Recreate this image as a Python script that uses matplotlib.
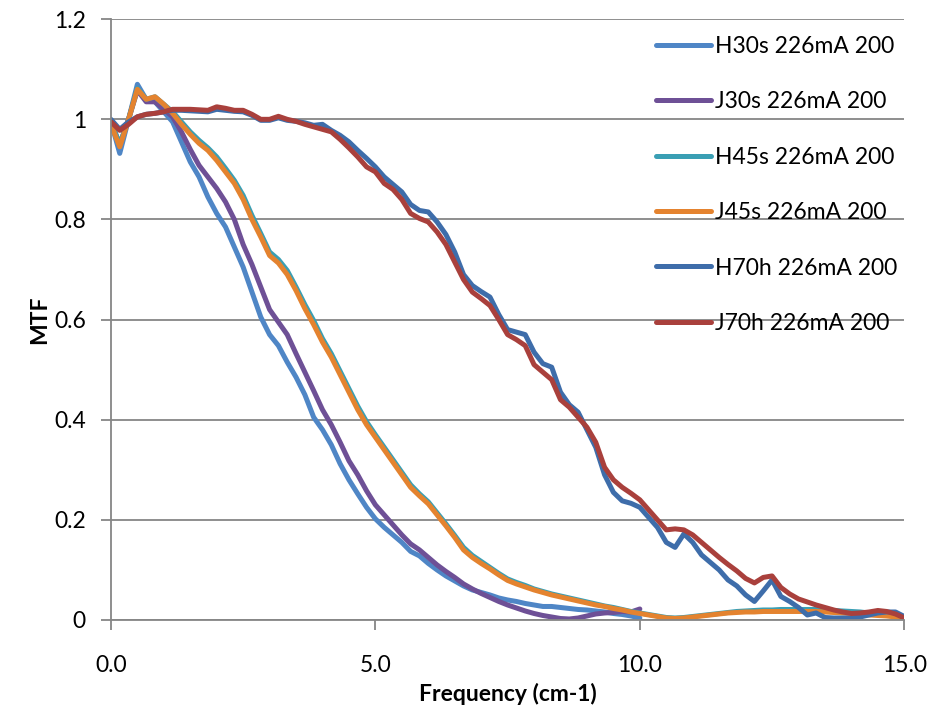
import numpy as np
import matplotlib
matplotlib.use('Agg')
import matplotlib.pyplot as plt

## MTF curves, sampled every 1/6 cm-1
## 30s series stop at 10 cm-1, the others go out to 15 cm-1
freq_short = np.arange(61) / 6.0
freq_long = np.arange(91) / 6.0

H30s = [0.995, 0.932, 1.0, 1.07, 1.04, 1.035, 1.015, 0.995, 0.955, 0.915,
        0.885, 0.845, 0.812, 0.785, 0.745, 0.705, 0.655, 0.605, 0.57, 0.548,
        0.515, 0.485, 0.45, 0.405, 0.38, 0.35, 0.312, 0.28, 0.252, 0.225,
        0.202, 0.185, 0.17, 0.155, 0.137, 0.128, 0.113, 0.1, 0.088, 0.078,
        0.068, 0.06, 0.055, 0.05, 0.044, 0.04, 0.037, 0.033, 0.03, 0.027,
        0.027, 0.025, 0.023, 0.021, 0.02, 0.018, 0.016, 0.013, 0.011, 0.008,
        0.004]

J30s = [0.995, 0.95, 1.0, 1.058, 1.035, 1.035, 1.02, 1.005, 0.975, 0.94,
        0.908, 0.885, 0.862, 0.835, 0.8, 0.75, 0.71, 0.665, 0.62, 0.595,
        0.57, 0.532, 0.495, 0.458, 0.42, 0.39, 0.355, 0.318, 0.29, 0.258,
        0.23, 0.21, 0.19, 0.17, 0.152, 0.14, 0.125, 0.11, 0.097, 0.085,
        0.072, 0.062, 0.053, 0.045, 0.037, 0.03, 0.024, 0.018, 0.013, 0.009,
        0.006, 0.003, 0.002, 0.004, 0.008, 0.012, 0.014, 0.015, 0.017, 0.016,
        0.022]

H45s = [0.995, 0.95, 1.0, 1.062, 1.04, 1.045, 1.03, 1.015, 0.995, 0.975,
        0.958, 0.943, 0.925, 0.902, 0.878, 0.848, 0.808, 0.772, 0.735, 0.72,
        0.698, 0.665, 0.63, 0.598, 0.562, 0.532, 0.497, 0.462, 0.427, 0.396,
        0.37, 0.345, 0.32, 0.295, 0.27, 0.252, 0.236, 0.214, 0.192, 0.169,
        0.145, 0.129, 0.117, 0.105, 0.093, 0.082, 0.075, 0.069, 0.062, 0.057,
        0.052, 0.048, 0.044, 0.04, 0.036, 0.032, 0.028, 0.025, 0.021, 0.017,
        0.014, 0.011, 0.008, 0.005, 0.004, 0.005, 0.007, 0.009, 0.011, 0.013,
        0.015, 0.017, 0.018, 0.019, 0.02, 0.02, 0.021, 0.021, 0.021, 0.021,
        0.021, 0.02, 0.019, 0.018, 0.017, 0.016, 0.014, 0.012, 0.01, 0.008,
        0.005]

J45s = [0.99, 0.945, 1.0, 1.06, 1.04, 1.045, 1.03, 1.012, 0.99, 0.97,
        0.952, 0.938, 0.918, 0.895, 0.872, 0.84, 0.8, 0.765, 0.728, 0.713,
        0.69, 0.658, 0.622, 0.59, 0.555, 0.525, 0.49, 0.455, 0.42, 0.39,
        0.365, 0.34, 0.315, 0.29, 0.265, 0.248, 0.232, 0.21, 0.188, 0.165,
        0.14, 0.125, 0.113, 0.102, 0.09, 0.079, 0.072, 0.066, 0.06, 0.055,
        0.05, 0.046, 0.042, 0.038, 0.034, 0.03, 0.027, 0.023, 0.02, 0.016,
        0.013, 0.01, 0.007, 0.004, 0.003, 0.004, 0.006, 0.008, 0.01, 0.012,
        0.014, 0.015, 0.016, 0.016, 0.017, 0.017, 0.017, 0.017, 0.017, 0.017,
        0.017, 0.016, 0.015, 0.014, 0.013, 0.012, 0.01, 0.009, 0.008, 0.006,
        0.004]

H70h = [1.0, 0.98, 0.995, 1.005, 1.01, 1.012, 1.015, 1.018, 1.018, 1.017,
        1.016, 1.015, 1.02, 1.018, 1.016, 1.015, 1.008, 0.998, 0.998, 1.003,
        0.998, 0.996, 0.993, 0.988, 0.99, 0.978, 0.968, 0.955, 0.938, 0.922,
        0.905, 0.885, 0.87, 0.855, 0.83, 0.818, 0.815, 0.795, 0.77, 0.735,
        0.69, 0.668, 0.656, 0.645, 0.61, 0.58, 0.575, 0.57, 0.535, 0.512,
        0.505, 0.455, 0.43, 0.415, 0.38, 0.345, 0.29, 0.255, 0.238, 0.233,
        0.225, 0.205, 0.185, 0.155, 0.145, 0.172, 0.155, 0.13, 0.115, 0.1,
        0.08, 0.068, 0.05, 0.037, 0.058, 0.08, 0.047, 0.037, 0.025, 0.01,
        0.014, 0.005, 0.004, 0.004, 0.004, 0.006, 0.01, 0.014, 0.016, 0.016,
        0.007]

J70h = [0.995, 0.978, 0.99, 1.005, 1.01, 1.012, 1.015, 1.02, 1.02, 1.02,
        1.019, 1.018, 1.025, 1.022, 1.018, 1.018, 1.01, 1.0, 1.0, 1.006,
        1.0, 0.996, 0.99, 0.985, 0.98, 0.975, 0.96, 0.943, 0.925, 0.905,
        0.895, 0.872, 0.86, 0.84, 0.812, 0.802, 0.795, 0.775, 0.75, 0.715,
        0.68, 0.655, 0.642, 0.628, 0.6, 0.57, 0.56, 0.548, 0.51, 0.495,
        0.48, 0.44, 0.425, 0.405, 0.385, 0.355, 0.305, 0.28, 0.265, 0.253,
        0.24, 0.22, 0.2, 0.18, 0.182, 0.18, 0.17, 0.155, 0.14, 0.125,
        0.111, 0.098, 0.083, 0.074, 0.085, 0.088, 0.065, 0.052, 0.042, 0.036,
        0.03, 0.025, 0.02, 0.016, 0.013, 0.014, 0.016, 0.019, 0.017, 0.012,
        0.004]

series = [
    ('H30s 226mA 200', freq_short, H30s, '#4F86C6'),
    ('J30s 226mA 200', freq_short, J30s, '#6E5096'),
    ('H45s 226mA 200', freq_long, H45s, '#3A9FB4'),
    ('J45s 226mA 200', freq_long, J45s, '#E4832F'),
    ('H70h 226mA 200', freq_long, H70h, '#3E6DAA'),
    ('J70h 226mA 200', freq_long, J70h, '#A9403C'),
]

plt.rcParams['font.family'] = ['Lato', 'DejaVu Sans']
fsize = 16.5

fig = plt.figure(figsize=(9.4, 7.11), dpi=100)
ax = fig.add_axes([0.118, 0.128, 0.844, 0.845])

grid_col = '#868686'

## curves
for label, x, y, col in series:
    ax.plot(x, y, color=col, lw=3.6, label=label,
            solid_capstyle='round', solid_joinstyle='round')

## axes
ax.set_xlim(0, 15)
ax.set_ylim(0, 1.2)
ax.set_xticks([0, 5, 10, 15])
ax.set_xticklabels(['0.0', '5.0', '10.0', '15.0'])
ax.set_yticks(np.arange(0, 1.21, 0.2))
ax.set_yticklabels(['0', '0.2', '0.4', '0.6', '0.8', '1', '1.2'])
ax.yaxis.grid(True, color=grid_col, lw=1.3)
ax.set_axisbelow(True)
for side in ['top', 'right']:
    ax.spines[side].set_visible(False)
for side in ['left', 'bottom']:
    ax.spines[side].set_color(grid_col)
    ax.spines[side].set_linewidth(1.3)
ax.tick_params(axis='both', colors=grid_col, labelcolor='black',
               labelsize=fsize, length=7, width=1.3)
ax.tick_params(axis='x', pad=18)
ax.tick_params(axis='y', pad=11)

ax.set_xlabel('Frequency (cm-1)', fontsize=fsize, fontweight='bold', labelpad=5)
ax.set_ylabel('MTF', fontsize=fsize, fontweight='bold', labelpad=3)

## legend, no frame, stacked on the right
leg = ax.legend(loc='upper left', bbox_to_anchor=(0.687, 0.972),
                frameon=False, fontsize=fsize, handlelength=2.4,
                handletextpad=0.17, labelspacing=1.5, borderaxespad=0,
                borderpad=0)

fig.savefig('out.png', dpi=100)
